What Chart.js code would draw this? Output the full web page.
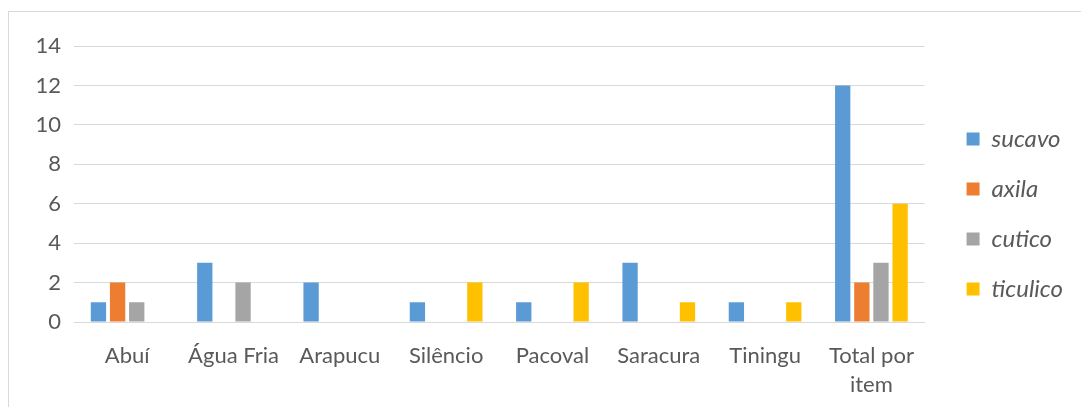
<!DOCTYPE html>
<html>
<head>
<meta charset="utf-8">
<script src="https://cdn.jsdelivr.net/npm/chart.js@4"></script>
<style>
  html, body { margin:0; padding:0; background:#fff; }
  #wrap { position:relative; width:1081px; height:407px; overflow:hidden; }
  #frame { position:absolute; left:8px; top:11px; width:1090px; height:420px; border:1px solid #d9d9d9; box-sizing:border-box; }
  #grafico { position:absolute; left:0; top:0; }
</style>
</head>
<body>
<div id="wrap">
  <div id="frame"></div>
  <canvas id="grafico" width="1081" height="407"></canvas>
</div>
<script>
// Ocorrências por localidade
const localidades = ['Abuí', 'Água Fria', 'Arapucu', 'Silêncio', 'Pacoval', 'Saracura', 'Tiningu', ['Total por', 'item']];
const sucavo   = [1, 3, 2, 1, 1, 3, 1, 12];
const axila    = [2, 0, 0, 0, 0, 0, 0, 2];
const cutico   = [1, 2, 0, 0, 0, 0, 0, 3];
const ticulico = [0, 0, 0, 2, 2, 1, 1, 6];
const ticksY = [0, 2, 4, 6, 8, 10, 12, 14];

const cores = { sucavo:'#5B9BD5', axila:'#ED7D31', cutico:'#A5A5A5', ticulico:'#FFC000' };
const texto = '#595959';
const grade = '#d9d9d9';
const fonte = 'Lato, "Open Sans", sans-serif';

function serie(label, data, cor){
  return { label, data, backgroundColor: cor, borderWidth: 0, barPercentage: 0.8, categoryPercentage: 0.72 };
}

new Chart(document.getElementById('grafico'), {
  type: 'bar',
  data: {
    labels: localidades,
    datasets: [
      serie('sucavo', sucavo, cores.sucavo),
      serie('axila', axila, cores.axila),
      serie('cutico', cutico, cores.cutico),
      serie('ticulico', ticulico, cores.ticulico)
    ]
  },
  options: {
    responsive: false,
    animation: false,
    layout: { padding: { top: 46, bottom: 0, left: 0, right: 8 } },
    plugins: {
      tooltip: { enabled: false },
      legend: {
        position: 'right',
        align: 'start',
        // título vazio só para empurrar os itens para baixo
        title: { display: true, text: '', font: { size: 25, lineHeight: 1 }, padding: { top: 30, bottom: 0 } },
        labels: {
          boxWidth: 13, boxHeight: 13, padding: 26,
          color: texto,
          font: { family: fonte, size: 24, style: 'italic' }
        }
      }
    },
    scales: {
      x: {
        grid: { display: false },
        border: { color: grade },
        ticks: { color: texto, padding: 12, maxRotation: 0, font: { family: fonte, size: 22, lineHeight: 1.3 } },
        afterFit(s){ s.height = 85; }
      },
      y: {
        min: 0, max: 14,
        afterBuildTicks(s){ s.ticks = ticksY.map(v => ({ value: v })); },
        grid: { color: grade, drawTicks: false },
        border: { display: false },
        ticks: { color: texto, padding: 13, font: { family: fonte, size: 22 } },
        afterFit(s){ s.width = 74; }
      },
      // espaço entre a área do gráfico e a legenda
      espaco: {
        position: 'right',
        display: true,
        grid: { display: false },
        border: { display: false },
        ticks: { display: false },
        afterFit(s){ s.width = 16; }
      }
    }
  }
});
</script>
</body>
</html>
